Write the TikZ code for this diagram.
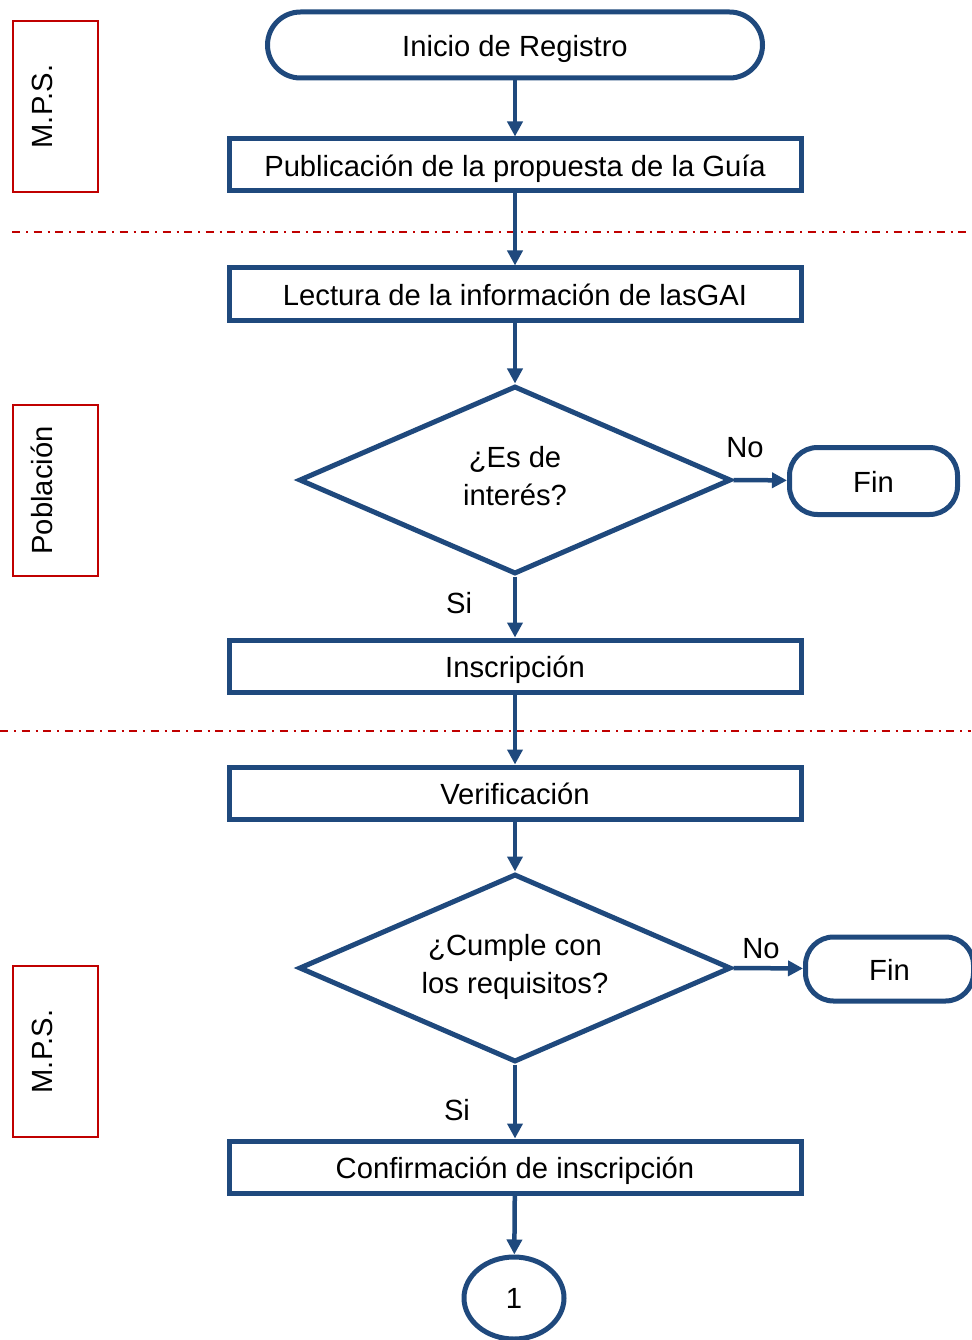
\documentclass[tikz,border=0pt]{standalone}
\usepackage{fontspec}
\setmainfont{Liberation Sans}
\usetikzlibrary{arrows.meta,shapes.geometric}
\definecolor{flowblue}{RGB}{31,73,125}
\definecolor{lanered}{RGB}{192,0,0}
\tikzset{
	every node/.style={font=\fontsize{29.3}{38}\selectfont},
	proc/.style={draw=flowblue,line width=5bp,minimum width=572bp,minimum height=52bp,inner sep=0,text height=29bp,text depth=6bp},
	term/.style={draw=flowblue,line width=5bp,rounded corners=28bp,minimum width=168bp,minimum height=66bp,inner sep=0,text height=29bp,text depth=6bp},
	decide/.style={draw=flowblue,line width=5bp,diamond,aspect=2.3,minimum width=432bp,minimum height=188bp,inner sep=0,align=center},
	flow/.style={draw=flowblue,line width=4.5bp,-{Triangle[length=15bp,width=15bp]}},
	lane/.style={draw=lanered,line width=2bp},
	sep/.style={draw=lanered,line width=2bp,dash pattern=on 8bp off 6bp on 2bp off 5.5bp}
}
% side box with rotated label: name, top, bottom, text
\newcommand{\drawlane}[4]{
	\pgfmathsetmacro{\mid}{(#2+#3)/2}
	\draw[lane] (13,#2) rectangle (98,#3);
	\node[rotate=90] (#1) at (42,\mid) {#4};
}

\begin{document}
\begin{tikzpicture}[x=1bp,y=-1bp]
	\useasboundingbox (0,0) rectangle (971,1340);
	% lanes
	\drawlane{mpsA}{21}{192}{M.P.S.}
	\drawlane{pob}{405}{576}{Población}
	\drawlane{mpsB}{966}{1137}{M.P.S.}
	\draw[sep] (12,232) -- (971,232);
	\draw[sep] (0,731) -- (971,731);

	% nodes
	\node[term,rounded corners=33bp,minimum width=495bp] (ini) at (515,45) {Inicio de Registro};
	\node[proc] (pub) at (515,165) {Publicación de la propuesta de la Guía};
	\node[proc] (lec) at (515,294) {Lectura de la información de lasGAI};
	\node[decide] (qa) at (515,480) {¿Es de\\interés?\\[-29bp]};
	\node[term,minimum height=67bp] (finA) at (873.5,481) {Fin};
	\node[proc] (ins) at (515,666) {Inscripción};
	\node[proc] (ver) at (515,793) {Verificación};
	\node[decide] (qb) at (515,968) {¿Cumple con\\los requisitos?\\[-29bp]};
	\node[term,minimum height=64bp] (finB) at (889.5,969) {Fin};
	\node[proc] (conf) at (515,1167) {Confirmación de inscripción};
	\node[draw=flowblue,line width=5bp,ellipse,minimum width=100bp,minimum height=82bp,inner sep=0] (one) at (514,1298) {1};

	% labels
	\node (noA) at (745,448) {No};
	\node (siA) at (459,603) {Si};
	\node (noB) at (761,949) {No};
	\node (siB) at (457,1110) {Si};

	% connectors
	\draw[flow] (ini) -- (pub);
	\draw[flow] (pub) -- (lec);
	\draw[flow] (lec) -- (qa);
	\draw[flow] (qa.east) -- (finA);
	\draw[flow] (qa.south) -- (ins);
	\draw[flow] (ins) -- (ver);
	\draw[flow] (ver) -- (qb);
	\draw[flow] (qb.east) -- (finB);
	\draw[flow] (qb.south) -- (conf);
	\draw[flow] (conf) -- (one);
\end{tikzpicture}
\end{document}
